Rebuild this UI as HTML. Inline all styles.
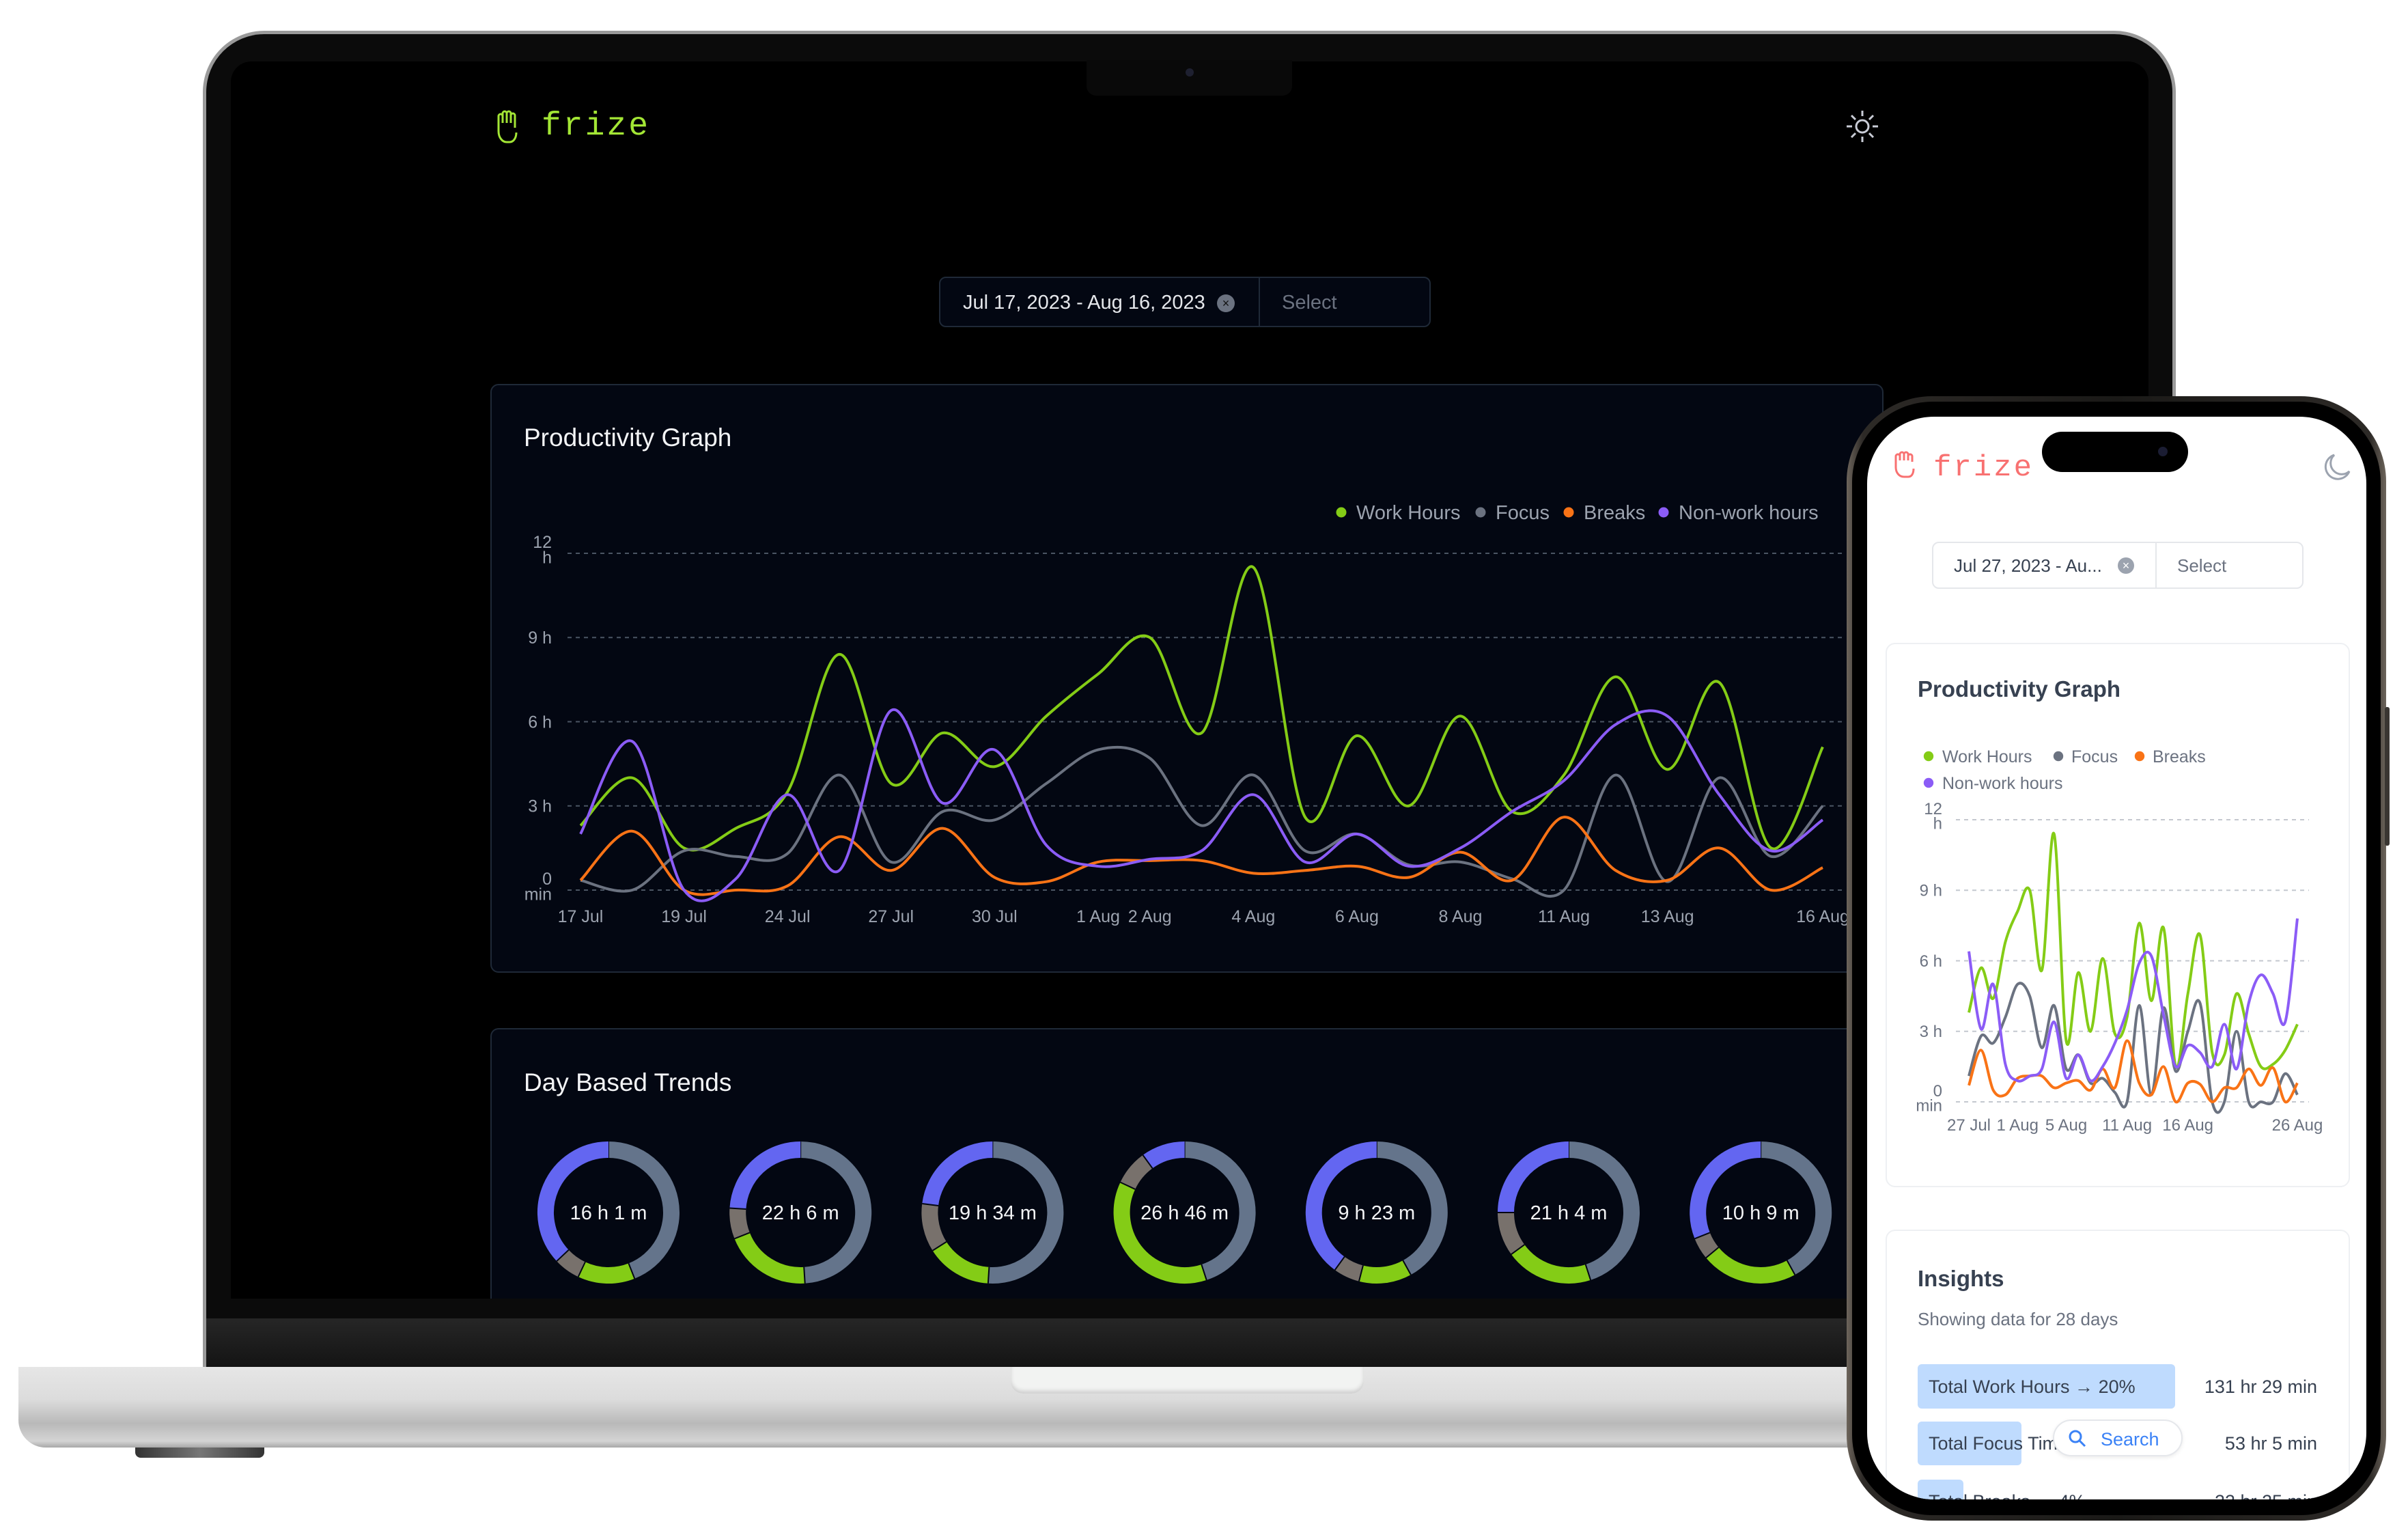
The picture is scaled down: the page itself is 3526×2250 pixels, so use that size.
<!DOCTYPE html>
<html><head><meta charset="utf-8">
<style>
*{box-sizing:border-box;margin:0;padding:0}
html,body{width:3526px;height:2250px;overflow:hidden}
body{background:#fff;position:relative;font-family:"Liberation Sans",sans-serif}
.abs{position:absolute}
</style></head>
<body>
<!-- Laptop base -->
<div class="abs" style="left:27px;top:2001px;width:3300px;height:118px;border-radius:0 0 0 40px;background:linear-gradient(#e6e6e6,#dcdcdc 40%,#b9b9b9 70%,#d4d4d4 92%,#a8a8a8)"></div>
<div class="abs" style="left:1480px;top:2001px;width:517px;height:39px;border-radius:0 0 18px 18px;background:#f2f3f2;box-shadow:inset 0 -4px 6px #cfcfcf"></div>
<div class="abs" style="left:198px;top:2119px;width:189px;height:15px;border-radius:0 0 8px 8px;background:linear-gradient(90deg,#333,#777,#333)"></div>
<!-- Laptop lid -->
<div class="abs" style="left:297px;top:45px;width:2889px;height:1956px;border-radius:90px 90px 0 0;background:#0b0b0b;border:5px solid #9a9a9a;border-bottom:none"></div>
<div class="abs" style="left:302px;top:1930px;width:2879px;height:71px;background:linear-gradient(#262626,#141414)"></div>
<div class="abs" style="left:338px;top:90px;width:2808px;height:1811px;background:#000;border-radius:30px 30px 0 0;overflow:hidden"></div>
<div class="abs" style="left:1591px;top:88px;width:301px;height:52px;background:#090909;border-radius:0 0 14px 14px"><div style="position:absolute;left:145px;top:12px;width:12px;height:12px;border-radius:50%;background:#1e2030"></div></div>

<!-- Laptop header -->
<svg class="abs" style="left:722px;top:160px" width="46" height="52" viewBox="0 0 46 52"><path d="M8 22V10a3 3 0 0 1 6 0v10M14 20V6a3 3 0 0 1 6 0v14M20 20V6a3 3 0 0 1 6 0v14M26 20V9a3 3 0 0 1 6 0v18M8 22v10c0 10 6 16 12 16h4c6 0 10-6 10-14" fill="none" stroke="#a3e635" stroke-width="3"/></svg>
<div class="abs" style="left:793px;top:158px;font:48px 'Liberation Mono',monospace;color:#a3e635;letter-spacing:3px">frize</div>
<svg class="abs" style="left:2700px;top:158px" width="54" height="54" viewBox="0 0 54 54"><g stroke="#c9ccd6" stroke-width="3" fill="none"><circle cx="27" cy="27" r="9"/><path d="M27 4v8M27 42v8M4 27h8M42 27h8M11 11l6 6M37 37l6 6M11 43l6-6M37 17l6-6"/></g></svg>

<!-- Date picker -->
<div class="abs" style="left:1375px;top:405px;width:720px;height:74px;border:2px solid #1f2937;border-radius:10px;background:#030712">
<div class="abs" style="left:33px;top:20px;font-size:29px;color:#e5e7eb;white-space:nowrap">Jul 17, 2023 - Aug 16, 2023</div>
<div class="abs" style="left:405px;top:24px;width:26px;height:26px;border-radius:50%;background:#6b7280;color:#111;font-size:18px;line-height:26px;text-align:center">×</div>
<div class="abs" style="left:466px;top:0;width:2px;height:70px;background:#1f2937"></div>
<div class="abs" style="left:500px;top:20px;font-size:29px;color:#6b7280">Select</div>
</div>

<!-- Productivity card -->
<div class="abs" style="left:718px;top:562px;width:2040px;height:862px;background:#030712;border:2px solid #1f2937;border-radius:12px"></div>
<div class="abs" style="left:767px;top:620px;font-size:37px;color:#f3f4f6">Productivity Graph</div>
<svg class="abs" id="mainChart" style="left:0;top:0" width="2760" height="1424"></svg>

<!-- Day trends card -->
<div class="abs" style="left:718px;top:1505px;width:2040px;height:396px;background:#030712;border:2px solid #1f2937;border-bottom:none;border-radius:12px 12px 0 0;overflow:hidden">
<div class="abs" style="left:47px;top:57px;font-size:37px;color:#f3f4f6">Day Based Trends</div>
</div>
<svg class="abs" id="donuts" style="left:0;top:0" width="2760" height="1901"></svg>

<!-- Phone -->
<div class="abs" style="left:2704px;top:580px;width:790px;height:1646px;border-radius:125px;background:linear-gradient(90deg,#6d655c,#2d2a27 3%,#1a1917 50%,#2d2a27 97%,#6d655c);padding:8px">
<div style="width:100%;height:100%;border-radius:118px;background:#000"></div></div>
<div class="abs" style="left:3492px;top:1035px;width:7px;height:203px;background:#3a3632;border-radius:3px"></div>
<div class="abs" style="left:2734px;top:610px;width:731px;height:1585px;border-radius:98px;background:#fff;overflow:hidden">
 <div class="abs" style="left:27px;top:331px;width:680px;height:797px;border:2px solid #eef0f3;border-radius:14px"></div>
 <div class="abs" style="left:27px;top:1190px;width:680px;height:600px;border:2px solid #eef0f3;border-radius:14px"></div>
 <div class="abs" style="left:74px;top:380px;font-size:33px;font-weight:bold;color:#374151">Productivity Graph</div>
 <div class="abs" style="left:74px;top:1243px;font-size:33px;font-weight:bold;color:#374151">Insights</div>
 <div class="abs" style="left:74px;top:1306px;font-size:26px;color:#6b7280">Showing data for 28 days</div>
 <div class="abs" style="left:74px;top:1387px;width:377px;height:65px;background:#bfdbfe;border-radius:6px"></div>
 <div class="abs" style="left:90px;top:1405px;font-size:27px;color:#374151">Total Work Hours → 20%</div>
 <div class="abs" style="right:72px;top:1405px;font-size:27px;color:#374151">131 hr 29 min</div>
 <div class="abs" style="left:74px;top:1471px;width:152px;height:64px;background:#bfdbfe;border-radius:6px"></div>
 <div class="abs" style="left:90px;top:1488px;font-size:27px;color:#374151">Total Focus Time</div>
 <div class="abs" style="right:72px;top:1488px;font-size:27px;color:#374151">53 hr 5 min</div>
 <div class="abs" style="left:272px;top:1468px;width:190px;height:54px;border:2px solid #e5e7eb;border-radius:27px;background:#fff;box-shadow:0 2px 6px rgba(0,0,0,.08)">
  <svg class="abs" style="left:20px;top:12px" width="28" height="28" viewBox="0 0 28 28"><circle cx="11" cy="11" r="8" fill="none" stroke="#3b82f6" stroke-width="3"/><path d="M17 17l8 8" stroke="#3b82f6" stroke-width="3"/></svg>
  <div class="abs" style="left:68px;top:12px;font-size:27px;color:#3b82f6">Search</div></div>
 <div class="abs" style="left:74px;top:1556px;width:67px;height:64px;background:#bfdbfe;border-radius:6px"></div>
 <div class="abs" style="left:90px;top:1573px;font-size:27px;color:#374151">Total Breaks → 4%</div>
 <div class="abs" style="right:72px;top:1573px;font-size:27px;color:#374151">22 hr 25 min</div>
 <!-- header -->
 <svg class="abs" style="left:36px;top:50px" width="46" height="44" viewBox="0 0 46 44"><path d="M6 14V8a3 3 0 0 1 6 0v6M12 14V5a3 3 0 0 1 6 0v9M18 14V5a3 3 0 0 1 6 0v9M24 14V8a3 3 0 0 1 6 0v8M6 14v10c0 8 5 14 12 14h6c6 0 8-6 8-12" fill="none" stroke="#f87171" stroke-width="3"/></svg>
 <div class="abs" style="left:97px;top:50px;font:44px 'Liberation Mono',monospace;color:#f87171;letter-spacing:3px">frize</div>
 <svg class="abs" style="left:664px;top:50px" width="48" height="48" viewBox="0 0 48 48"><path d="M20 6A18 18 0 1 0 42 30 14 14 0 0 1 20 6z" fill="none" stroke="#9ca3af" stroke-width="3"/></svg>
 <div class="abs" style="left:95px;top:183px;width:544px;height:69px;border:2px solid #e5e7eb;border-radius:10px">
  <div class="abs" style="left:30px;top:18px;font-size:26px;color:#374151;white-space:nowrap">Jul 27, 2023 - Au...</div>
  <div class="abs" style="left:270px;top:21px;width:24px;height:24px;border-radius:50%;background:#9ca3af;color:#fff;font-size:18px;line-height:24px;text-align:center">×</div>
  <div class="abs" style="left:325px;top:0;width:2px;height:65px;background:#e5e7eb"></div>
  <div class="abs" style="left:357px;top:18px;font-size:26px;color:#6b7280">Select</div>
 </div>
 <svg class="abs" id="phoneChart" style="left:-2734px;top:-610px" width="3465" height="1700"></svg>
</div>
<div class="abs" style="left:2990px;top:632px;width:214px;height:59px;border-radius:30px;background:#000"><div style="position:absolute;left:170px;top:22px;width:14px;height:14px;border-radius:50%;background:#1b1d33"></div></div>

<script>
// ---- Laptop chart data ----
const mainLabels = ["17 Jul","","19 Jul","","24 Jul","","27 Jul","","30 Jul","","1 Aug","2 Aug","","4 Aug","","6 Aug","","8 Aug","","11 Aug","","13 Aug","","","16 Aug"];
const mainWork   = [2.3,4.0,1.5,2.2,3.5,8.4,3.8,5.6,4.4,6.2,7.7,9.0,5.6,11.5,2.6,5.5,3.0,6.2,2.8,4.1,7.6,4.3,7.4,1.5,5.1];
const mainFocus  = [0.35,0,1.4,1.2,1.3,4.1,1.0,2.8,2.5,3.8,5.0,4.7,2.3,4.1,1.4,2.0,0.9,1.0,0.4,0,4.1,0.3,4.0,1.2,3.0];
const mainBreaks = [0.35,2.1,0,0,0.15,1.9,0.7,2.2,0.45,0.3,1.0,1.05,1.05,0.6,0.7,0.85,0.45,1.35,0.35,2.6,0.7,0.35,1.5,0,0.8];
const mainNon    = [2.0,5.3,0,0.4,3.4,0.7,6.4,3.1,5.0,1.6,0.85,1.1,1.4,3.4,1.0,2.0,0.85,1.5,2.8,3.9,5.9,6.2,3.4,1.4,2.5];
const yTicks = [0,3,6,9,12];
const yTickLabels = [["0","min"],["3 h"],["6 h"],["9 h"],["12","h"]];
const seriesNames = ["Work Hours","Focus","Breaks","Non-work hours"];
// ---- Phone chart data ----
const phoneLabels = ["27 Jul","","","","1 Aug","","","","5 Aug","","","","","11 Aug","","","","","16 Aug","","","","","","","","","26 Aug"];
const phoneWork   = [3.8,5.7,4.4,6.8,8.1,9.0,5.6,11.4,2.6,5.5,3.0,6.1,2.9,3.6,7.6,4.3,7.4,1.5,4.6,7.1,2.1,2.0,4.6,2.9,1.5,1.6,2.2,3.3];
const phoneFocus  = [1.1,2.8,2.5,3.6,5.0,4.5,2.3,4.1,1.4,2.0,0.8,1.0,0.4,0,4.1,0.3,4.0,1.3,3.0,4.2,0,0,3.0,0,0,0,1.2,0.3];
const phoneBreaks = [0.7,2.2,0.5,0.3,1.0,1.1,1.1,0.6,0.8,0.9,0.5,1.4,0.6,2.6,0.8,0.3,1.5,0,0.8,0.75,0,0.6,0.6,1.4,0.7,1.45,0,0.8];
const phoneNon    = [6.4,3.1,5.0,1.6,0.9,1.1,1.4,3.4,1.0,2.0,0.9,1.5,2.5,3.9,5.9,6.2,3.7,1.5,2.4,2.1,1.5,3.3,1.4,4.2,5.4,4.6,3.4,7.8];
// ---- Donut data ----
const donutLabels = ["16 h 1 m","22 h 6 m","19 h 34 m","26 h 46 m","9 h 23 m","21 h 4 m","10 h 9 m"];
const donutSlate = [0.44,0.49,0.51,0.45,0.42,0.45,0.42];
const donutGreen = [0.13,0.20,0.15,0.37,0.12,0.20,0.22];
const donutTaupe = [0.06,0.07,0.11,0.08,0.06,0.10,0.05];
const donutBlue  = [0.37,0.24,0.23,0.10,0.40,0.25,0.31];

const NS="http://www.w3.org/2000/svg";
const COLORS=["#84cc16","#6b7280","#f97316","#8b5cf6"];
function el(tag,attrs,parent){const e=document.createElementNS(NS,tag);for(const k in attrs)e.setAttribute(k,attrs[k]);parent.appendChild(e);return e;}
function smooth(pts){let d="M"+pts[0][0]+","+pts[0][1];for(let i=0;i<pts.length-1;i++){const p0=pts[i-1]||pts[i],p1=pts[i],p2=pts[i+1],p3=pts[i+2]||p2;const c1x=p1[0]+(p2[0]-p0[0])/6,c1y=p1[1]+(p2[1]-p0[1])/6,c2x=p2[0]-(p3[0]-p1[0])/6,c2y=p2[1]-(p3[1]-p1[1])/6;d+=" C"+c1x+","+c1y+" "+c2x+","+c2y+" "+p2[0]+","+p2[1];}return d;}

function drawChart(svg,cfg){
  const n=cfg.labels.length;
  const x=i=>cfg.x0+i*(cfg.x1-cfg.x0)/(n-1);
  const y=v=>cfg.yb-v*(cfg.yb-cfg.yt)/12;
  yTicks.forEach((t,k)=>{
    const g=el("line",{x1:cfg.gx0,x2:cfg.gx1,y1:y(t),y2:y(t),stroke:cfg.grid,"stroke-width":2,"stroke-dasharray":"6 6"},svg);
    
    
    const lab=yTickLabels[k];
    lab.forEach((s,j)=>{
      const dy=lab.length===2?(j===0?-8:cfg.fs*0.9-8):cfg.fs*0.35;
      const tx=el("text",{x:cfg.yl,y:y(t)+dy,"text-anchor":"end","font-size":cfg.fs,fill:cfg.tc,"font-family":"Liberation Sans, sans-serif"},svg);
      tx.textContent=s;
      
      
    });
  });
  cfg.labels.forEach((s,i)=>{
    if(!s)return;
    const tx=el("text",{x:x(i),y:cfg.xly,"text-anchor":"middle","font-size":cfg.fs,fill:cfg.tc,"font-family":"Liberation Sans, sans-serif"},svg);
    tx.textContent=s;
    
    
  });
  cfg.series.forEach((arr,si)=>{
    const p=el("path",{d:smooth(arr.map((v,i)=>[x(i),y(v)])),fill:"none",stroke:COLORS[si],"stroke-width":cfg.sw},svg);
    
    
  });
  cfg.legend.forEach((L,si)=>{
    const c=el("circle",{cx:L[0],cy:L[2],r:cfg.fs*0.3,fill:COLORS[si]},svg);
    
    
    const t=el("text",{x:L[1],y:L[2]+cfg.lfs*0.35,"font-size":cfg.lfs,fill:cfg.lc,"font-family":"Liberation Sans, sans-serif"},svg);
    t.textContent=seriesNames[si];
    
    
  });
}
drawChart(document.getElementById("mainChart"),{labels:mainLabels,series:[mainWork,mainFocus,mainBreaks,mainNon],
  x0:850,x1:2669,yt:810,yb:1303,gx0:831,gx1:2700,grid:"#4b5563",yl:808,xly:1350,fs:25,tc:"#9ca3af",sw:4,
  legend:[[1964,1986,750],[2168,2190,750],[2297,2319,750],[2436,2458,750]],lfs:29,lc:"#9ca3af"});
drawChart(document.getElementById("phoneChart"),{labels:phoneLabels,series:[phoneWork,phoneFocus,phoneBreaks,phoneNon],
  x0:2883,x1:3364,yt:1200,yb:1613,gx0:2864,gx1:3381,grid:"#c4c8cf",yl:2844,xly:1655,fs:24,tc:"#6b7280",sw:4,
  legend:[[2824,2844,1107],[3014,3033,1107],[3133,3152,1107],[2824,2844,1146]],lfs:25,lc:"#6b7280"});

// Donuts
(function(){
  const svg=document.getElementById("donuts");
  const cols=["#64748b","#84cc16","#78716c","#6366f1"];
  const cx0=891,dx=281.2,cy=1775,r=92,w=24;
  donutLabels.forEach((lab,i)=>{
    const cx=cx0+i*dx;
    const vals=[donutSlate[i],donutGreen[i],donutTaupe[i],donutBlue[i]];
    const tot=vals.reduce((a,b)=>a+b,0);
    let a0=0;
    vals.forEach((v,k)=>{
      const a1=a0+v/tot*Math.PI*2;
      const p=(a)=>[cx+r*Math.sin(a),cy-r*Math.cos(a)];
      const s=p(a0),e=p(a1);
      const arc=el("path",{d:"M"+s[0]+","+s[1]+" A"+r+","+r+" 0 "+((a1-a0)>Math.PI?1:0)+" 1 "+e[0]+","+e[1],fill:"none",stroke:cols[k],"stroke-width":w},svg);
      
      
      const sep=el("line",{x1:cx+(r-w/2)*Math.sin(a0),y1:cy-(r-w/2)*Math.cos(a0),x2:cx+(r+w/2)*Math.sin(a0),y2:cy-(r+w/2)*Math.cos(a0),stroke:"#030712","stroke-width":2},svg);
      
      
      a0=a1;
    });
    const t=el("text",{x:cx,y:cy+10,"text-anchor":"middle","font-size":29,fill:"#f3f4f6","font-family":"Liberation Sans, sans-serif"},svg);
    t.textContent=lab;
    
    
  });
})();
</script>
</body></html>
